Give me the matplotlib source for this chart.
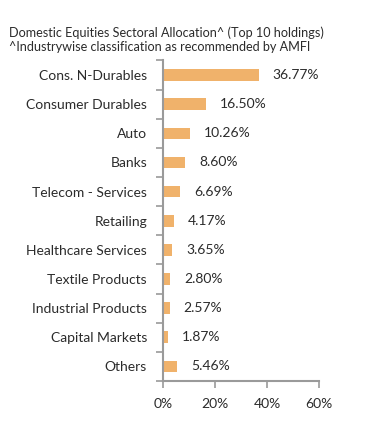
import matplotlib.pyplot as plt
import numpy as np

plt.rcParams['font.family'] = ['Lato', 'DejaVu Sans']

sectors = ["Cons. N-Durables", "Consumer Durables", "Auto", "Banks", "Telecom - Services",
           "Retailing", "Healthcare Services", "Textile Products", "Industrial Products",
           "Capital Markets", "Others"]
weights = [36.77, 16.50, 10.26, 8.60, 6.69, 4.17, 3.65, 2.80, 2.57, 1.87, 5.46]
xticks = [0, 20, 40, 60]

bar_color = '#F0B26B'
axis_color = '#9a9a9a'
text_color = '#2b2b2b'

fig = plt.figure(figsize=(3.91, 4.34), dpi=100)
ax = fig.add_axes([163 / 391, 1 - 381 / 434, 156 / 391, 320.5 / 434])

y = np.arange(len(sectors))
ax.barh(y, weights, height=0.4, color=bar_color)
ax.set_ylim(len(sectors) - 0.5, -0.5)
ax.set_xlim(0, 60)

# value labels next to bars
for yi, w in zip(y, weights):
    ax.annotate(f"{w:.2f}%", (w, yi), xytext=(10, 0), textcoords='offset points',
                va='center', ha='left', fontsize=10, color=text_color)

# category labels at centres, tick marks at the boundaries
ax.set_yticks(y)
ax.set_yticklabels(sectors, fontsize=10, color=text_color)
ax.tick_params(axis='y', which='major', length=0, pad=11.5)
ax.set_yticks(np.arange(-0.5, len(sectors)), minor=True)
ax.tick_params(axis='y', which='minor', length=5, color=axis_color, width=1.2)

ax.set_xticks(xticks)
ax.set_xticklabels([f"{t}%" for t in xticks], fontsize=10, color=text_color)
ax.tick_params(axis='x', length=5, color=axis_color, width=1.2, pad=7)

for s in ['top', 'right']:
    ax.spines[s].set_visible(False)
for s in ['left', 'bottom']:
    ax.spines[s].set_color(axis_color)
    ax.spines[s].set_linewidth(1.5)

fig.text(9 / 391, 1 - 33 / 434, "Domestic Equities Sectoral Allocation^ (Top 10 holdings)",
         fontsize=9.1, color=text_color, va='center', ha='left')
fig.text(9 / 391, 1 - 47 / 434, "^Industrywise classification as recommended by AMFI",
         fontsize=9.1, color=text_color, va='center', ha='left')

fig.savefig("out.png", dpi=100, facecolor='white')
